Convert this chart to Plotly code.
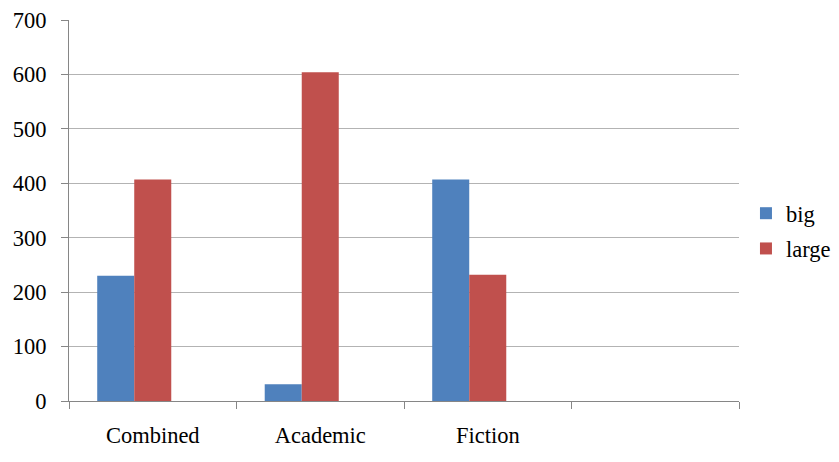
import plotly.graph_objects as go

categories = ['Combined', 'Academic', 'Fiction', ' ']
big = [230, 31, 407, None]
large = [407, 604, 232, None]
# third (empty) series in the source workbook, keeps the bar slots
blank = [0, 0, 0, 0]
y_ticks = [0, 100, 200, 300, 400, 500, 600, 700]

font = 'Liberation Serif'
fsize = 22.5

fig = go.Figure()

fig.add_trace(go.Bar(
    x=categories,
    y=big,
    name='big',
    legendgroup='big',
    marker_color='#4f81bd',
    marker_line_width=0
))

fig.add_trace(go.Bar(
    x=categories,
    y=large,
    name='large',
    legendgroup='large',
    marker_color='#c0504d',
    marker_line_width=0
))

fig.add_trace(go.Bar(
    x=categories,
    y=blank,
    name='',
    marker_color='rgba(0,0,0,0)',
    marker_line_width=0,
    showlegend=False,
    hoverinfo='skip'
))

# page body adds ~8px margin, so the figure is a bit smaller than the window
fig.update_layout(
    width=831,
    height=454,
    margin=dict(l=61, r=100, t=11.5, b=61, autoexpand=False),
    barmode='group',
    bargap=0.337,
    bargroupgap=0,
    plot_bgcolor='white',
    paper_bgcolor='white',
    font=dict(family=font, size=fsize, color='#000000'),
    legend=dict(
        x=1.0104,
        y=0.446,
        xanchor='left',
        yanchor='middle',
        font=dict(family=font, size=fsize),
        bgcolor='rgba(0,0,0,0)',
        traceorder='grouped',
        tracegroupgap=3
    ),
    showlegend=True
)

fig.update_xaxes(
    type='category',
    categoryorder='array',
    categoryarray=categories,
    automargin=False,
    showgrid=False,
    showline=True,
    linecolor='#868686',
    linewidth=1,
    ticks='outside',
    tickson='boundaries',
    ticklen=7,
    tickcolor='#868686',
    tickfont=dict(family=font, size=fsize),
    ticklabelstandoff=14
)

fig.update_yaxes(
    range=[0, 700],
    tickvals=y_ticks,
    automargin=False,
    showgrid=True,
    gridcolor='#b3b3b3',
    gridwidth=1,
    showline=True,
    linecolor='#868686',
    linewidth=1,
    ticks='outside',
    ticklen=7,
    tickcolor='#868686',
    tickfont=dict(family=font, size=fsize),
    ticklabelstandoff=10,
    ticklabeloverflow='allow',
    zeroline=False
)

fig.write_html("out.html")
